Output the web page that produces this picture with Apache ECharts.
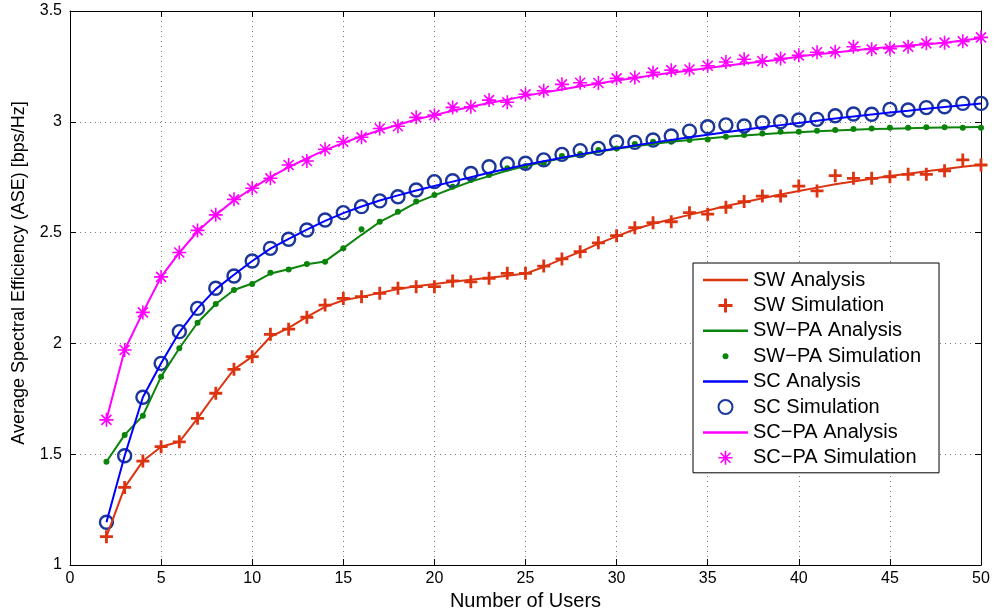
<!DOCTYPE html>
<html>
<head>
<meta charset="utf-8">
<script src="https://cdn.jsdelivr.net/npm/echarts@6/dist/echarts.min.js"></script>
<style>
  html, body { margin: 0; padding: 0; background: #fff; }
  #main { width: 994px; height: 611px; }
</style>
</head>
<body>
<div id="main"></div>
<script>
// number of users, 2..50
var users = [];
for (var u = 2; u <= 50; u++) users.push(u);

var swAnalysis = [1.128, 1.35, 1.469, 1.534, 1.556, 1.662, 1.775, 1.883, 1.94, 2.03,
    2.07, 2.12, 2.165, 2.195, 2.21, 2.228, 2.245, 2.258, 2.268, 2.278,
    2.287, 2.296, 2.305, 2.315, 2.345, 2.38, 2.413, 2.45, 2.483, 2.515,
    2.54, 2.56, 2.58, 2.6, 2.62, 2.637, 2.655, 2.672, 2.688, 2.703,
    2.718, 2.731, 2.743, 2.755, 2.766, 2.777, 2.787, 2.797, 2.806];
var swSim = [1.128, 1.35, 1.469, 1.534, 1.556, 1.662, 1.775, 1.883, 1.94, 2.041,
    2.064, 2.118, 2.173, 2.203, 2.211, 2.226, 2.249, 2.256, 2.256, 2.282,
    2.278, 2.294, 2.316, 2.316, 2.349, 2.381, 2.414, 2.454, 2.486, 2.522,
    2.545, 2.549, 2.59, 2.583, 2.614, 2.64, 2.665, 2.665, 2.71, 2.688,
    2.757, 2.745, 2.745, 2.752, 2.763, 2.763, 2.779, 2.828, 2.805];

var swpaAnalysis = [1.466, 1.587, 1.674, 1.85, 1.978, 2.093, 2.178, 2.241, 2.27, 2.315,
    2.335, 2.357, 2.37, 2.43, 2.49, 2.548, 2.59, 2.635, 2.668, 2.70,
    2.73, 2.755, 2.78, 2.80, 2.818, 2.835, 2.85, 2.865, 2.878, 2.89,
    2.90, 2.91, 2.918, 2.925, 2.932, 2.938, 2.944, 2.949, 2.953, 2.957,
    2.961, 2.964, 2.967, 2.969, 2.971, 2.973, 2.974, 2.975, 2.976];
var swpaSim = [1.466, 1.587, 1.674, 1.85, 1.978, 2.093, 2.178, 2.241, 2.268, 2.319,
    2.334, 2.358, 2.369, 2.429, 2.515, 2.549, 2.594, 2.64, 2.67, 2.707,
    2.737, 2.76, 2.79, 2.80, 2.813, 2.846, 2.855, 2.873, 2.88, 2.90,
    2.91, 2.91, 2.918, 2.92, 2.933, 2.94, 2.947, 2.955, 2.955, 2.96,
    2.963, 2.968, 2.97, 2.973, 2.973, 2.975, 2.975, 2.973, 2.973];

var scAnalysis = [1.193, 1.493, 1.757, 1.91, 2.05, 2.158, 2.245, 2.31, 2.372, 2.428,
    2.472, 2.513, 2.553, 2.588, 2.618, 2.645, 2.668, 2.69, 2.71, 2.73,
    2.75, 2.77, 2.788, 2.806, 2.822, 2.838, 2.853, 2.867, 2.88, 2.893,
    2.906, 2.918, 2.93, 2.942, 2.953, 2.964, 2.975, 2.985, 2.995, 3.005,
    3.015, 3.024, 3.033, 3.042, 3.05, 3.059, 3.067, 3.075, 3.083];
var scSim = [1.193, 1.493, 1.757, 1.91, 2.053, 2.158, 2.249, 2.304, 2.372, 2.429,
    2.47, 2.512, 2.557, 2.59, 2.617, 2.643, 2.662, 2.692, 2.73, 2.734,
    2.767, 2.797, 2.81, 2.813, 2.828, 2.853, 2.87, 2.88, 2.909, 2.907,
    2.918, 2.936, 2.958, 2.978, 2.986, 2.981, 2.996, 3.0, 3.008, 3.011,
    3.027, 3.035, 3.034, 3.056, 3.053, 3.064, 3.068, 3.083, 3.083];

var scpaAnalysis = [1.655, 1.97, 2.14, 2.30, 2.41, 2.505, 2.58, 2.645, 2.70, 2.75,
    2.795, 2.835, 2.872, 2.905, 2.935, 2.962, 2.987, 3.01, 3.03, 3.05,
    3.068, 3.085, 3.10, 3.117, 3.132, 3.146, 3.16, 3.173, 3.186, 3.198,
    3.21, 3.221, 3.232, 3.243, 3.253, 3.263, 3.272, 3.281, 3.295, 3.305,
    3.313, 3.322, 3.331, 3.338, 3.344, 3.35, 3.357, 3.367, 3.378];
var scpaSim = [1.655, 1.97, 2.14, 2.30, 2.41, 2.51, 2.58, 2.65, 2.70, 2.745,
    2.805, 2.823, 2.876, 2.91, 2.93, 2.97, 2.98, 3.02, 3.03, 3.065,
    3.068, 3.098, 3.088, 3.124, 3.14, 3.169, 3.176, 3.175, 3.196, 3.20,
    3.223, 3.233, 3.236, 3.253, 3.27, 3.282, 3.274, 3.286, 3.30, 3.314,
    3.316, 3.339, 3.327, 3.33, 3.339, 3.354, 3.357, 3.363, 3.381];

var xTicks = [0, 50, 5];
var yTicks = [1, 3.5, 0.5];

var names = ['SW Analysis', 'SW Simulation', 'SW\u2212PA Analysis', 'SW\u2212PA Simulation',
    'SC Analysis', 'SC Simulation', 'SC\u2212PA Analysis', 'SC\u2212PA Simulation'];

function pairs(vals) {
    return users.map(function (n, i) { return [n, vals[i]]; });
}

var RED = '#dc3410', GREEN = '#0a840a', BLUE = '#0000ff', NAVY = '#1c3799', MAGENTA = '#ff00ff';
var FONT = 'Liberation Sans, Arial, Helvetica, sans-serif';

var plusPath = 'path://M5.1,0H7.9V5.1H13V7.9H7.9V13H5.1V7.9H0V5.1H5.1Z';
var starPath = 'path://M6.2,0H7.8V14H6.2Z M0,6.2H14V7.8H0Z ' +
    'M2.57,1.43L12.57,11.43L11.43,12.57L1.43,2.57Z ' +
    'M12.57,2.57L2.57,12.57L1.43,11.43L11.43,1.43Z';
var dotIcon = 'path://M0,0M14,14M10,7A3,3,0,1,1,4,7A3,3,0,1,1,10,7Z';
var lineIcon = 'path://M0,0H45V2.5H0Z';

function lineSeries(name, vals, color) {
    return {
        name: name, type: 'line', data: pairs(vals),
        symbol: 'none', smooth: false,
        lineStyle: { color: color, width: 2 },
        itemStyle: { color: color }
    };
}

var myChart = echarts.init(document.getElementById('main'));

var option = {
    animation: false,
    backgroundColor: '#fff',
    grid: { left: 70, top: 11, right: 13, bottom: 46, outerBoundsMode: 'none' },
    legend: {
        orient: 'vertical',
        left: 693, top: 263,
        padding: [7, 18, 5, 10],
        itemGap: 5.4,
        itemWidth: 45, itemHeight: 14,
        symbolKeepAspect: true,
        backgroundColor: '#fff',
        borderColor: '#000', borderWidth: 1,
        textStyle: { fontFamily: FONT, fontSize: 20, color: '#000' },
        data: [
            { name: names[0], icon: lineIcon }, { name: names[1] },
            { name: names[2], icon: lineIcon }, { name: names[3], icon: dotIcon },
            { name: names[4], icon: lineIcon }, { name: names[5] },
            { name: names[6], icon: lineIcon }, { name: names[7] }
        ]
    },
    xAxis: [{
        type: 'value', min: xTicks[0], max: xTicks[1], interval: xTicks[2],
        name: 'Number of Users', nameLocation: 'middle', nameGap: 24,
        nameTextStyle: { fontFamily: FONT, fontSize: 20, color: '#000' },
        axisLine: { onZero: false, lineStyle: { color: '#000', width: 1 } },
        axisTick: { inside: true, length: 6, lineStyle: { color: '#000' } },
        axisLabel: { fontFamily: FONT, fontSize: 16, color: '#000', margin: 6 },
        splitLine: { show: true, lineStyle: { color: '#777', type: [1, 4], width: 1 } }
    }, {
        type: 'value', min: xTicks[0], max: xTicks[1], interval: xTicks[2],
        position: 'top',
        axisLine: { onZero: false, lineStyle: { color: '#000', width: 1 } },
        axisTick: { inside: true, length: 6, lineStyle: { color: '#000' } },
        axisLabel: { show: false }, splitLine: { show: false }
    }],
    yAxis: [{
        type: 'value', min: yTicks[0], max: yTicks[1], interval: yTicks[2],
        name: 'Average Spectral Efficiency (ASE) [bps/Hz]', nameLocation: 'middle', nameGap: 42,
        nameTextStyle: { fontFamily: FONT, fontSize: 18, color: '#000', padding: [0, 0, 0, 30] },
        axisLine: { onZero: false, lineStyle: { color: '#000', width: 1 } },
        axisTick: { inside: true, length: 6, lineStyle: { color: '#000' } },
        axisLabel: { fontFamily: FONT, fontSize: 16, color: '#000', margin: 8 },
        splitLine: { show: true, lineStyle: { color: '#777', type: [1, 4], width: 1 } }
    }, {
        type: 'value', min: yTicks[0], max: yTicks[1], interval: yTicks[2],
        position: 'right',
        axisLine: { onZero: false, lineStyle: { color: '#000', width: 1 } },
        axisTick: { inside: true, length: 6, lineStyle: { color: '#000' } },
        axisLabel: { show: false }, splitLine: { show: false }
    }],
    series: [
        lineSeries(names[0], swAnalysis, RED),
        {
            name: names[1], type: 'scatter', data: pairs(swSim),
            symbol: plusPath, symbolSize: 13,
            itemStyle: { color: RED, opacity: 1 }
        },
        lineSeries(names[2], swpaAnalysis, GREEN),
        {
            name: names[3], type: 'scatter', data: pairs(swpaSim),
            symbol: 'circle', symbolSize: 6,
            itemStyle: { color: GREEN, opacity: 1 }
        },
        lineSeries(names[4], scAnalysis, BLUE),
        {
            name: names[5], type: 'scatter', data: pairs(scSim),
            symbol: 'circle', symbolSize: 13,
            itemStyle: { color: 'rgba(0,0,0,0)', borderColor: NAVY, borderWidth: 2.4, opacity: 1 }
        },
        lineSeries(names[6], scpaAnalysis, MAGENTA),
        {
            name: names[7], type: 'scatter', data: pairs(scpaSim),
            symbol: starPath, symbolSize: 14,
            itemStyle: { color: MAGENTA, opacity: 1 }
        }
    ]
};

myChart.setOption(option);
</script>
</body>
</html>
